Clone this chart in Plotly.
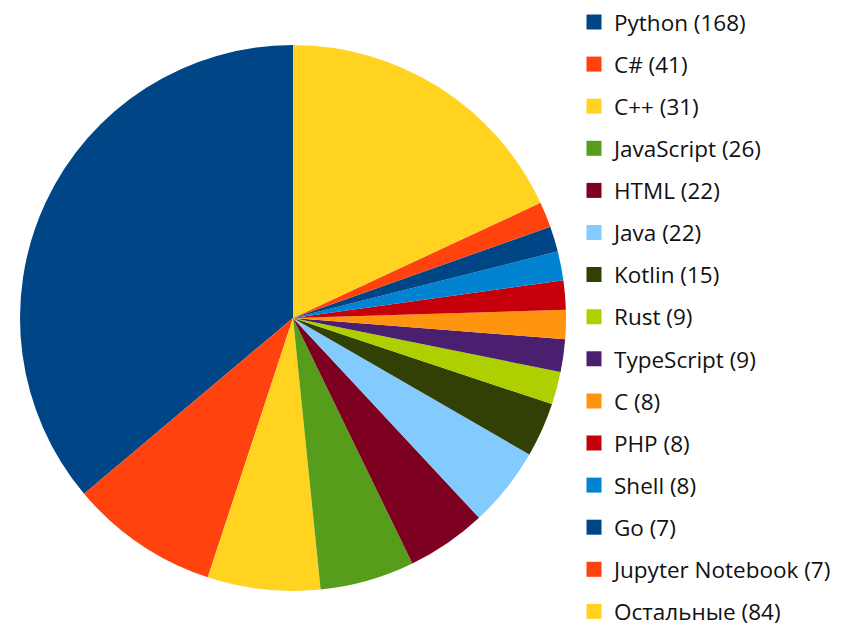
import plotly.graph_objects as go

languages = ["Python", "C#", "C++", "JavaScript", "HTML", "Java", "Kotlin", "Rust",
             "TypeScript", "C", "PHP", "Shell", "Go", "Jupyter Notebook", "Остальные"]
counts = [168, 41, 31, 26, 22, 22, 15, 9, 9, 8, 8, 8, 7, 7, 84]
colors = ["#004586", "#ff420e", "#ffd320", "#579d1c", "#7e0021", "#83caff", "#314004",
          "#aecf00", "#4b1f6f", "#ff950e", "#c5000b", "#0084d1", "#004586", "#ff420e", "#ffd320"]

W, H = 851, 628
labels = [f"{l} ({c})" for l, c in zip(languages, counts)]

fig = go.Figure()
# first slice starts at 12 o'clock and runs counter-clockwise
fig.add_trace(go.Pie(
    labels=labels, values=counts, sort=False, direction="counterclockwise",
    rotation=-360.0 * counts[0] / sum(counts),
    marker=dict(colors=colors, line=dict(width=0)),
    textinfo="none", hoverinfo="label+percent", showlegend=False,
    domain=dict(x=[12 / W, 558 / W], y=[45 / H, 591 / H]),
))

FS = 22.5
ITEM_H = FS * 1.3 + 3
STEP = 42.1
PER = 5
legend_ids = ["legend", "legend2", "legend3"]
for i, (lab, col) in enumerate(zip(labels, colors)):
    fig.add_trace(go.Scatter(
        x=[None], y=[None], mode="markers", name=lab, legendgroup=f"g{i}",
        legend=legend_ids[i // PER],
        marker=dict(symbol="square", size=15, color=col, line=dict(width=0)),
        showlegend=True,
    ))

legend_common = dict(x=566 / W, xanchor="left", yanchor="top",
                     font=dict(family="Open Sans", size=FS, color="#111111"),
                     tracegroupgap=STEP - ITEM_H, traceorder="grouped",
                     bgcolor="rgba(0,0,0,0)")
legends = {}
for k, lid in enumerate(legend_ids):
    first_center = 14 + STEP * PER * k
    top = first_center - 5 - ITEM_H / 2
    legends[lid] = dict(legend_common, y=1 - top / H)

fig.update_layout(
    width=W, height=H, margin=dict(l=0, r=0, t=0, b=0, autoexpand=False),
    paper_bgcolor="white", plot_bgcolor="white",
    xaxis=dict(visible=False), yaxis=dict(visible=False),
    **legends,
)
fig.write_html("out.html")
